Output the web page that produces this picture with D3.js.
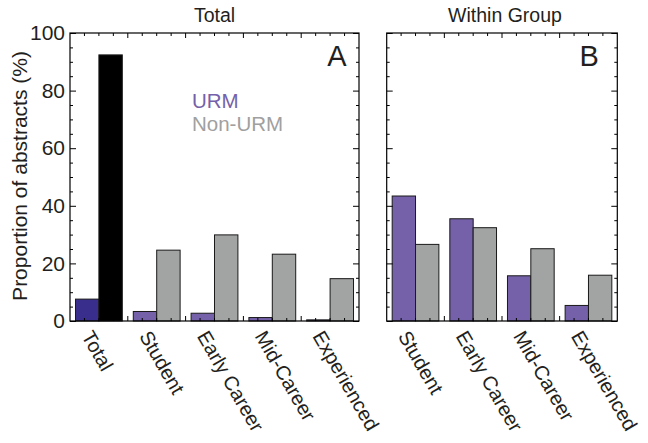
<!DOCTYPE html>
<html><head><meta charset="utf-8">
<script src="https://cdn.jsdelivr.net/npm/d3@7"></script>
<style>
html,body{margin:0;padding:0;background:#fff;}
text{font-family:"Liberation Sans",Arial,Helvetica,sans-serif;fill:#231f20;}
</style></head>
<body><svg id="chart" width="648" height="443"></svg>
<script>
// ---- data ----
const categoriesA = ["Total","Student","Early Career","Mid-Career","Experienced"];
const urmTotal = [7.6, 3.3, 2.7, 1.2, 0.4];
const nonUrmTotal = [92.4, 24.6, 29.9, 23.2, 14.7];
const categoriesB = ["Student","Early Career","Mid-Career","Experienced"];
const urmWithin = [43.4, 35.5, 15.7, 5.4];
const nonUrmWithin = [26.6, 32.4, 25.1, 15.9];
const seriesNames = ["URM","Non-URM"];
const yTicks = [0,20,40,60,80,100];
const panelTitles = ["Total","Within Group"];
const panelLetters = ["A","B"];

const colPurple = "#7461a9", colGray = "#a2a4a3", colNavy = "#3a2e8c", colBlack = "#000000";

const svg = d3.select("#chart");
const y = d3.scaleLinear().domain([0,100]).range([321,33]);

const panels = [
  {cats: categoriesA, urm: urmTotal, non: nonUrmTotal, x0: 70, x1: 359, labels: true},
  {cats: categoriesB, urm: urmWithin, non: nonUrmWithin, x0: 386.7, x1: 617.3, labels: false}
];

panels.forEach((p, pi) => {
  const g = svg.append("g");
  const x = d3.scaleBand().domain(p.cats).range([p.x0, p.x1]).paddingInner(0.19).paddingOuter(0.095);
  const xi = d3.scaleBand().domain(seriesNames).range([0, x.bandwidth()]);
  const rows = p.cats.map((c, i) => ({c, i, vals: [p.urm[i], p.non[i]]}));

  // bars
  rows.forEach(r => {
    seriesNames.forEach((s, si) => {
      let fill = si === 0 ? colPurple : colGray;
      if (pi === 0 && r.c === "Total") fill = si === 0 ? colNavy : colBlack;
      g.append("rect")
        .attr("x", x(r.c) + xi(s))
        .attr("y", y(r.vals[si]))
        .attr("width", xi.bandwidth())
        .attr("height", y(0) - y(r.vals[si]))
        .attr("fill", fill)
        .attr("stroke", "#1a1a1a")
        .attr("stroke-width", 1);
    });
  });

  // y ticks (left and right, inward)
  const minor = d3.range(0, 101, 5).filter(v => v % 20 !== 0);
  const leftAx = d3.axisLeft(y).tickValues(yTicks).tickSize(-6).tickSizeOuter(0).tickPadding(5);
  const la = g.append("g").attr("transform", `translate(${p.x0},0)`).call(leftAx);
  la.select(".domain").remove();
  la.selectAll("text").style("font-size", "21px").attr("fill", "#231f20");
  if (pi !== 0) la.selectAll("text").remove();
  const leftMinor = g.append("g").attr("transform", `translate(${p.x0},0)`)
    .call(d3.axisLeft(y).tickValues(minor).tickSize(-3).tickFormat(""));
  leftMinor.select(".domain").remove();
  const ra = g.append("g").attr("transform", `translate(${p.x1},0)`)
    .call(d3.axisRight(y).tickValues(yTicks).tickSize(-6).tickFormat(""));
  ra.select(".domain").remove();
  const rm = g.append("g").attr("transform", `translate(${p.x1},0)`)
    .call(d3.axisRight(y).tickValues(minor).tickSize(-3).tickFormat(""));
  rm.select(".domain").remove();

  // top and bottom ticks at quarter steps
  const step = x.step();
  const n = p.cats.length * 4;
  const xt = d3.scaleLinear().domain([0, n]).range([p.x0, p.x1]);
  const tickIdx = d3.range(1, n);
  g.selectAll(".tt").data(tickIdx).join("line")
    .attr("x1", d => xt(d)).attr("x2", d => xt(d))
    .attr("y1", y(100)).attr("y2", d => y(100) + (d % 4 === 0 ? 5 : 3))
    .attr("stroke", "#000").attr("stroke-width", 1);
  g.selectAll(".bt").data(tickIdx).join("line")
    .attr("x1", d => xt(d)).attr("x2", d => xt(d))
    .attr("y1", y(0)).attr("y2", d => y(0) - (d % 4 === 0 ? 5 : 3))
    .attr("stroke", "#000").attr("stroke-width", 1);

  // frame
  g.append("rect").attr("x", p.x0).attr("y", y(100)).attr("width", p.x1 - p.x0).attr("height", y(0) - y(100))
    .attr("fill", "none").attr("stroke", "#000").attr("stroke-width", 1.2);

  // x labels
  const bx = g.append("g").attr("transform", `translate(0,${y(0)})`)
    .call(d3.axisBottom(x).tickSize(0));
  bx.select(".domain").remove();
  bx.selectAll("text")
    .attr("x", 0).attr("y", 0).attr("dy", 0)
    .attr("transform", "translate(-18,15) rotate(60)")
    .attr("text-anchor", "start")
    .style("font-size", "20px").attr("fill", "#231f20");

  // title
  svg.append("text").attr("x", (p.x0 + p.x1) / 2 + (pi === 1 ? 3 : 0)).attr("y", 22)
    .attr("text-anchor", "middle").style("font-size", "19.5px").text(panelTitles[pi]);
  // letter
  svg.append("text").attr("x", p.x1 - (pi === 0 ? 12.5 : 18.5)).attr("y", 66)
    .attr("text-anchor", "end").style("font-size", "29px").text(panelLetters[pi]);
});

// legend
svg.append("text").attr("x", 192).attr("y", 108).style("font-size", "20.5px")
  .style("fill", colPurple).text(seriesNames[0]);
svg.append("text").attr("x", 192).attr("y", 131).style("font-size", "20.5px")
  .style("fill", "#a0a0a0").text(seriesNames[1]);

// y label
svg.append("text").attr("transform", "translate(27,176) rotate(-90)")
  .attr("text-anchor", "middle").style("font-size", "21px").text("Proportion of abstracts (%)");
</script></body></html>
